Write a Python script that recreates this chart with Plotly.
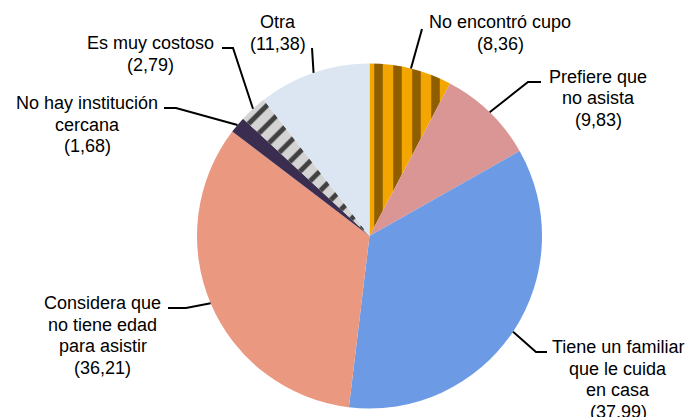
import math
import plotly.graph_objects as go

# ---------------- data ----------------
categories = [
    "No encontró cupo",
    "Prefiere que no asista",
    "Tiene un familiar que le cuida en casa",
    "Considera que no tiene edad para asistir",
    "No hay institución cercana",
    "Es muy costoso",
    "Otra",
]
label_lines = [
    ["No encontró cupo"],
    ["Prefiere que", "no asista"],
    ["Tiene un familiar", "que le cuida", "en casa"],
    ["Considera que", "no tiene edad", "para asistir"],
    ["No hay institución", "cercana"],
    ["Es muy costoso"],
    ["Otra"],
]
values = [8.36, 9.83, 37.99, 36.21, 1.68, 2.79, 11.38]

# ---------------- style ----------------
colors = ["#F2A200", "#D99694", "#6C9AE4", "#EA9880", "#3B2D4F", "#A0A0A0", "#DCE6F2"]
pattern_shapes = ["|", "", "", "", "", "/", ""]
pattern_fg = ["#8E5E00", "#D99694", "#6C9AE4", "#EA9880", "#3B2D4F", "#404040", "#DCE6F2"]
pattern_bg = ["#F4A600", "#D99694", "#6C9AE4", "#EA9880", "#3B2D4F", "#D4D4D4", "#DCE6F2"]

# the page body has an 8px margin, so the figure is placed 8px in from the window corner
OFF = 8
W, H = 693 - 2 * OFF, 417 - OFF
CX, CY, R = 369.5, 236.0, 172.5     # pie centre / radius in window pixels
FONT = "Liberation Sans, Arial, sans-serif"
FS = 18
LINE_H = 21.5

# label layout (window pixels): centre x of text block, y of first line, leader path points
label_layout = [
    dict(x=500, y=22, path=[(422, 29)]),
    dict(x=598, y=77, path=[(541, 82), (528, 82)]),
    dict(x=618, y=347, path=[(547, 352), (536, 352)]),
    dict(x=103, y=303, path=[(168, 308), (186, 308)]),
    dict(x=87, y=103, path=[(164, 108), (176, 108)]),
    dict(x=150, y=43, path=[(222, 48), (233, 48)]),
    dict(x=278, y=22, path=[(312, 48)]),
]


def px(x):
    return (x - OFF) / W


def py(y):
    return 1 - (y - OFF) / H


fig = go.Figure()
fig.add_trace(go.Pie(
    labels=categories,
    values=values,
    sort=False,
    direction="clockwise",
    rotation=0,
    textinfo="none",
    hoverinfo="label+value",
    marker=dict(
        colors=colors,
        line=dict(width=0),
        pattern=dict(
            shape=pattern_shapes,
            fgcolor=pattern_fg,
            bgcolor=pattern_bg,
            size=[19, 8, 8, 8, 8, 14, 8],
            solidity=[0.45, 0.3, 0.3, 0.3, 0.3, 0.35, 0.3],
        ),
    ),
    domain=dict(x=[px(CX - R), px(CX + R)], y=[py(CY + R), py(CY - R)]),
    showlegend=False,
))

total = sum(values)
annotations = []
shapes = []
cum = 0.0
for i, v in enumerate(values):
    mid = (cum + v / 2) / total * 2 * math.pi
    cum += v
    ex = CX + R * math.sin(mid)
    ey = CY - R * math.cos(mid)
    lay = label_layout[i]
    lines = label_lines[i] + ["(" + f"{v:.2f}".replace(".", ",") + ")"]
    for j, t in enumerate(lines):
        annotations.append(dict(
            x=px(lay["x"]), y=py(lay["y"] + j * LINE_H), xref="paper", yref="paper",
            text=t, showarrow=False, xanchor="center", yanchor="middle",
            font=dict(family=FONT, size=FS, color="#000000"),
        ))
    pts = lay["path"] + [(ex, ey)]
    d = "M " + " L ".join(f"{px(a):.5f},{py(b):.5f}" for a, b in pts)
    shapes.append(dict(type="path", path=d, xref="paper", yref="paper",
                       line=dict(color="#000000", width=2)))

fig.update_layout(
    width=W, height=H,
    margin=dict(l=0, r=0, t=0, b=0),
    paper_bgcolor="#FFFFFF",
    plot_bgcolor="#FFFFFF",
    annotations=annotations,
    shapes=shapes,
)

fig.write_html("out.html")
